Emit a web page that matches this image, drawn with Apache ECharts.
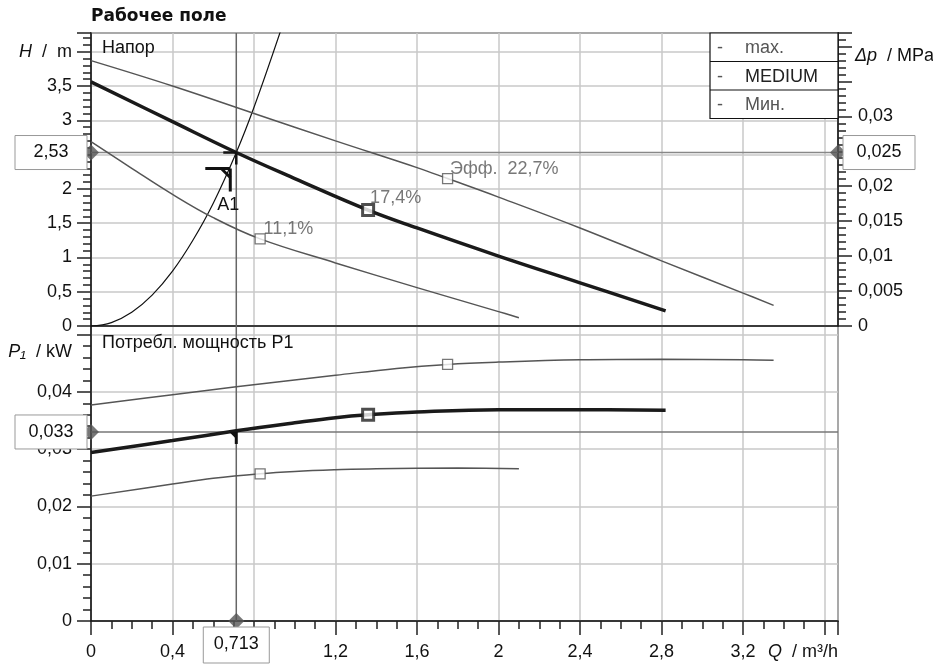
<!DOCTYPE html>
<html>
<head>
<meta charset="utf-8">
<script src="https://cdn.jsdelivr.net/npm/echarts@6/dist/echarts.min.js"></script>
<style>
  html, body { margin: 0; padding: 0; background: #fff; }
  #chart { width: 933px; height: 665px; }
</style>
</head>
<body>
<div id="chart"></div>
<script>
// Напор (H, m) по кривым насоса
const qHeadMax = [0, 0.4, 0.8, 1.2, 1.6, 1.75, 2.0, 2.4, 2.8, 3.2, 3.35];
const headMax = [3.87, 3.50, 3.10, 2.70, 2.31, 2.15, 1.88, 1.43, 0.95, 0.48, 0.30];
const qHeadMed = [0, 0.4, 0.713, 1.0, 1.36, 1.6, 2.0, 2.4, 2.82];
const headMed = [3.56, 2.98, 2.53, 2.15, 1.69, 1.43, 1.02, 0.63, 0.22];
const qHeadMin = [0, 0.2, 0.4, 0.6, 0.83, 1.2, 1.6, 2.0, 2.1];
const headMin = [2.69, 2.30, 1.92, 1.58, 1.27, 0.92, 0.56, 0.21, 0.12];
// характеристика системы
const qSystem = [0, 0.1, 0.2, 0.3, 0.4, 0.5, 0.6, 0.713, 0.8, 0.93];
const headSystem = [0, 0.05, 0.2, 0.45, 0.8, 1.25, 1.79, 2.53, 3.19, 4.3];

// Потребляемая мощность P1, kW
const qPowerMax = [0, 0.4, 0.713, 1.2, 1.5, 1.75, 2.0, 2.4, 2.8, 3.2, 3.35];
const powerMax = [0.0377, 0.0395, 0.0409, 0.0429, 0.0441, 0.0448, 0.0452, 0.0456, 0.0457, 0.0456, 0.0455];
const qPowerMed = [0, 0.4, 0.713, 1.0, 1.2, 1.36, 1.6, 2.0, 2.4, 2.82];
const powerMed = [0.0294, 0.0315, 0.0332, 0.0346, 0.0355, 0.0360, 0.0365, 0.0369, 0.0369, 0.0368];
const qPowerMin = [0, 0.4, 0.6, 0.83, 1.0, 1.2, 1.4, 1.8, 2.1];
const powerMin = [0.0218, 0.0239, 0.0249, 0.0257, 0.0261, 0.0264, 0.0266, 0.0267, 0.0266];

// точки КПД (max, MEDIUM, Мин.)
const effQ = [1.75, 1.36, 0.83];
const effHead = [2.15, 1.69, 1.27];
const effPower = [0.0448, 0.0360, 0.0257];
const effLabels = ['Эфф.  22,7%', '17,4%', '11,1%'];

// рабочая точка A1
const opQ = 0.713;
const opHead = 2.53;
const opDp = 0.025;
const opPower = 0.033;

const legendNames = ['max.', 'MEDIUM', 'Мин.'];

// диапазоны осей
const qAxisMax = 3.666;
const headAxisMax = 4.273;
const dpAxisMax = headAxisMax * 0.00981;
const powerAxisMax = 0.0515;

const FONT = 'Liberation Sans, Arial, sans-serif';
const FS = 18;
const INK = '#111';

const fmt = (v) => String(parseFloat(v.toFixed(4))).replace('.', ',');
const isStep = (v, step) => Math.abs(v / step - Math.round(v / step)) < 1e-6;
const zip = (qs, vs) => qs.map((q, i) => [q, vs[i]]);

const italicRich = { i: { fontStyle: 'italic', fontSize: FS, fontFamily: FONT, color: INK } };
const tickStyle = { color: '#222', width: 1.5 };
const gridLine = { lineStyle: { color: '#c8c8c8', width: 1.5 } };

function curve(xi, yi, qs, vs, color, width) {
  return {
    type: 'line', xAxisIndex: xi, yAxisIndex: yi, data: zip(qs, vs),
    symbol: 'none', smooth: 0.4, silent: true,
    lineStyle: { color, width },
  };
}

function straight(xi, yi, pts, color) {
  return {
    type: 'line', xAxisIndex: xi, yAxisIndex: yi, data: pts,
    symbol: 'none', silent: true, lineStyle: { color, width: 1.5 },
  };
}

const labelPos = [[8, -13], [9, -14], [9, -13]];
function effSeries(xi, yi, vals, withLabels) {
  return {
    type: 'scatter', xAxisIndex: xi, yAxisIndex: yi, symbol: 'rect', z: 5,
    data: effQ.map((q, i) => ({
      value: [q, vals[i]],
      symbolSize: i === 1 ? 11 : 10,
      itemStyle: i === 1
        ? { color: '#fff', borderColor: '#222', borderWidth: 3 }
        : { color: '#fff', borderColor: '#555', borderWidth: 1.3 },
      label: {
        show: withLabels, formatter: effLabels[i], position: labelPos[i],
        color: '#555', fontSize: FS, fontFamily: FONT,
      },
    })),
  };
}

function glyphTop(params, api) {
  const p = api.coord([api.value(0), api.value(1)]);
  const st = { stroke: INK, lineWidth: 3 };
  return {
    type: 'group',
    children: [
      { type: 'line', shape: { x1: p[0] - 13, y1: p[1], x2: p[0], y2: p[1] }, style: { stroke: INK, lineWidth: 2.5 } },
      { type: 'line', shape: { x1: p[0], y1: p[1], x2: p[0], y2: p[1] + 12 }, style: { stroke: INK, lineWidth: 2.5 } },
      { type: 'line', shape: { x1: p[0] - 31, y1: p[1] + 16, x2: p[0] - 6, y2: p[1] + 16 }, style: st },
      { type: 'line', shape: { x1: p[0] - 6, y1: p[1] + 16, x2: p[0] - 6, y2: p[1] + 39 }, style: st },
      { type: 'line', shape: { x1: p[0] - 15, y1: p[1] + 16, x2: p[0] - 6, y2: p[1] + 25 }, style: st },
      { type: 'text', style: { text: 'A1', x: p[0] - 8, y: p[1] + 53, align: 'center', verticalAlign: 'middle', fontSize: FS, fontFamily: FONT, fill: INK } },
    ],
  };
}

function glyphBottom(params, api) {
  const p = api.coord([api.value(0), api.value(1)]);
  return {
    type: 'group',
    children: [
      { type: 'line', shape: { x1: p[0], y1: p[1], x2: p[0], y2: p[1] + 12 }, style: { stroke: INK, lineWidth: 3 } },
      { type: 'polygon', shape: { points: [[p[0] - 7, p[1]], [p[0], p[1]], [p[0], p[1] + 7]] }, style: { fill: INK } },
    ],
  };
}

const chart = echarts.init(document.getElementById('chart'), null, { renderer: 'canvas' });

const axisBase = {
  type: 'value', min: 0,
  axisLine: { show: true, lineStyle: { color: INK, width: 1.5 } },
  axisTick: { show: true, inside: false, length: 14, lineStyle: tickStyle },
  minorTick: { show: true, length: 8, lineStyle: tickStyle },
  nameMoveOverlap: false,
};

chart.setOption({
  animation: false,
  textStyle: { fontFamily: FONT },
  grid: [
    { left: 91, right: 95, top: 33, height: 293, show: true, borderColor: INK, borderWidth: 1.5, outerBoundsMode: 'none', containLabel: false },
    { left: 91, right: 95, top: 326, height: 295, show: true, borderColor: INK, borderWidth: 1.5, outerBoundsMode: 'none', containLabel: false },
  ],
  xAxis: [
    Object.assign({}, axisBase, {
      gridIndex: 0, max: qAxisMax, interval: 0.4,
      axisTick: { show: false }, minorTick: { show: false }, axisLabel: { show: false },
      splitLine: gridLine,
    }),
    Object.assign({}, axisBase, {
      gridIndex: 1, max: qAxisMax, interval: 0.4,
      minorTick: { show: true, splitNumber: 4, length: 8, lineStyle: tickStyle },
      splitLine: gridLine,
      axisLabel: {
        margin: 22, color: INK, fontSize: FS, fontFamily: FONT,
        formatter: (v) => (v > 3.3 || !isStep(v, 0.4)) ? '' : fmt(v),
      },
      name: '{i|Q}  / m³/h', nameLocation: 'end', nameGap: 0,
      nameTextStyle: { align: 'right', verticalAlign: 'top', padding: [22, 0, 0, 0], color: INK, fontSize: FS, fontFamily: FONT, rich: italicRich },
    }),
  ],
  yAxis: [
    Object.assign({}, axisBase, {
      gridIndex: 0, position: 'left', max: headAxisMax, interval: 0.5,
      minorTick: { show: true, splitNumber: 5, length: 8, lineStyle: tickStyle },
      splitLine: gridLine,
      axisLabel: {
        margin: 19, color: INK, fontSize: FS, fontFamily: FONT, rich: italicRich,
        formatter: (v) => {
          if (Math.abs(v - 4) < 1e-6) return '{i|H}  /  m';
          return (v > 4 || !isStep(v, 0.5)) ? '' : fmt(v);
        },
      },
    }),
    Object.assign({}, axisBase, {
      gridIndex: 0, position: 'right', max: dpAxisMax, interval: 0.005,
      minorTick: { show: true, splitNumber: 5, length: 8, lineStyle: tickStyle },
      splitLine: { show: false },
      axisLabel: {
        margin: 20, color: INK, fontSize: FS, fontFamily: FONT,
        formatter: (v) => (v > 0.0326 || !isStep(v, 0.005)) ? '' : fmt(v),
      },
      name: '{i|Δp}  / MPa', nameLocation: 'end', nameGap: -23,
      nameTextStyle: { align: 'left', verticalAlign: 'middle', padding: [0, 0, 0, 17], color: INK, fontSize: FS, fontFamily: FONT, rich: italicRich },
    }),
    Object.assign({}, axisBase, {
      gridIndex: 1, position: 'left', max: powerAxisMax, interval: 0.01,
      minorTick: { show: true, splitNumber: 5, length: 8, lineStyle: tickStyle },
      splitLine: gridLine,
      axisLabel: {
        margin: 19, color: INK, fontSize: FS, fontFamily: FONT,
        formatter: (v) => (v > 0.045 || !isStep(v, 0.01)) ? '' : fmt(v),
      },
      name: '{i|P₁}  / kW', nameLocation: 'end', nameGap: -26,
      nameTextStyle: { align: 'right', verticalAlign: 'middle', padding: [0, 19, 0, 0], color: INK, fontSize: FS, fontFamily: FONT, rich: italicRich },
    }),
  ],
  series: [
    // линии рабочей точки
    straight(0, 0, [[0, opHead], [qAxisMax, opHead]], '#888'),
    straight(0, 0, [[opQ, 0], [opQ, headAxisMax]], '#666'),
    straight(1, 2, [[0, opPower], [qAxisMax, opPower]], '#777'),
    straight(1, 2, [[opQ, 0], [opQ, powerAxisMax]], '#666'),
    // напор
    curve(0, 0, qSystem, headSystem, INK, 1.2),
    curve(0, 0, qHeadMax, headMax, '#555', 1.5),
    curve(0, 0, qHeadMin, headMin, '#555', 1.5),
    curve(0, 0, qHeadMed, headMed, '#1a1a1a', 3.5),
    // мощность
    curve(1, 2, qPowerMax, powerMax, '#555', 1.5),
    curve(1, 2, qPowerMin, powerMin, '#555', 1.5),
    curve(1, 2, qPowerMed, powerMed, '#1a1a1a', 3.5),
    effSeries(0, 0, effHead, true),
    effSeries(1, 2, effPower, false),
    { type: 'custom', xAxisIndex: 0, yAxisIndex: 0, renderItem: glyphTop, data: [[opQ, opHead]], z: 6, silent: true },
    { type: 'custom', xAxisIndex: 1, yAxisIndex: 2, renderItem: glyphBottom, data: [[opQ, opPower]], z: 6, silent: true },
    {
      type: 'scatter', xAxisIndex: 0, yAxisIndex: 0, symbol: 'diamond', symbolSize: 16, clip: false, z: 7,
      itemStyle: { color: '#555' }, data: [[0, opHead], [qAxisMax, opHead]],
    },
    {
      type: 'scatter', xAxisIndex: 1, yAxisIndex: 2, symbol: 'diamond', symbolSize: 16, clip: false, z: 7,
      itemStyle: { color: '#555' }, data: [[0, opPower], [opQ, 0]],
    },
  ],
});

// подписи, легенда и значения рабочей точки
const a = chart.convertToPixel({ gridIndex: 0 }, [opQ, opHead]);
const b = chart.convertToPixel({ gridIndex: 1 }, [opQ, opPower]);
const c = chart.convertToPixel({ gridIndex: 1 }, [opQ, 0]);
const gRight = chart.convertToPixel({ gridIndex: 0 }, [qAxisMax, headAxisMax]);
const gLeft = chart.convertToPixel({ gridIndex: 0 }, [0, headAxisMax]);

const txt = (x, y, text, extra) => ({
  type: 'text', x, y, z: 100,
  style: Object.assign({ text, fontSize: FS, fontFamily: FONT, fill: INK, align: 'left', verticalAlign: 'middle' }, extra),
});
const box = (x, y, w, h, text, ty) => [
  { type: 'rect', z: 100, shape: { x, y, width: w, height: h }, style: { fill: '#fff', stroke: '#999', lineWidth: 1 } },
  txt(x + w / 2, ty, text, { align: 'center' }),
];

const legendX = gRight[0] - 128;
const legendTop = gRight[1];
const rowH = 28.5;
const graphics = [
  txt(gLeft[0], 17, 'Рабочее поле', { fontFamily: 'DejaVu Sans, sans-serif', fontWeight: 'bold', fontSize: 17 }),
  txt(gLeft[0] + 11, 48, 'Напор'),
  txt(gLeft[0] + 11, 343, 'Потребл. мощность P1'),
  { type: 'rect', z: 100, shape: { x: legendX, y: legendTop, width: 128, height: rowH * 3 }, style: { fill: '#fff', stroke: INK, lineWidth: 1.2 } },
  { type: 'line', z: 100, shape: { x1: legendX, y1: legendTop + rowH, x2: gRight[0], y2: legendTop + rowH }, style: { stroke: INK, lineWidth: 1.2 } },
  { type: 'line', z: 100, shape: { x1: legendX, y1: legendTop + rowH * 2, x2: gRight[0], y2: legendTop + rowH * 2 }, style: { stroke: INK, lineWidth: 1.2 } },
];
legendNames.forEach((name, i) => {
  const y = legendTop + rowH * i + rowH / 2 + 1;
  graphics.push(txt(legendX + 7, y, '-', { fill: '#555' }));
  graphics.push(txt(legendX + 35, y, name, { fill: i === 1 ? '#222' : '#555' }));
});
graphics.push(...box(15, a[1] - 17, 72, 34, fmt(opHead), a[1]));
graphics.push(...box(gRight[0] + 5, a[1] - 17, 72, 34, fmt(opDp), a[1]));
graphics.push(...box(15, b[1] - 17, 72, 34, fmt(opPower), b[1]));
graphics.push(...box(c[0] - 33, c[1] + 6, 66, 36, fmt(opQ), c[1] + 23));

chart.setOption({ graphic: graphics });
</script>
</body>
</html>
